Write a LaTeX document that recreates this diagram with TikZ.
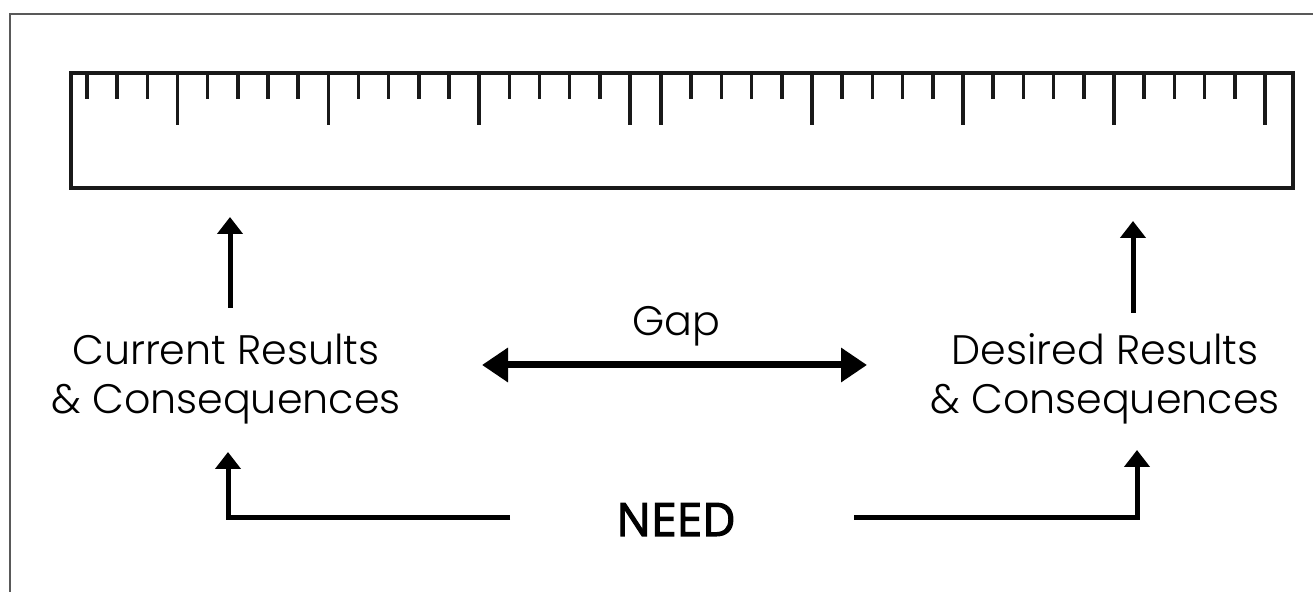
\documentclass[tikz,border=0pt]{standalone}
\usepackage{fontspec}
\setmainfont{Poppins}[UprightFont=* Light]
\newfontfamily\needfont{Open Sans}[FakeBold=2.5]
\usetikzlibrary{arrows.meta}
\begin{document}
\begin{tikzpicture}[x=0.5pt,y=-0.5pt,
  frame/.style={draw=black!65,line width=1pt},
  rulerline/.style={draw=black!90,line width=1.7pt},
  tick/.style={draw=black!90,line width=1.8pt},
  lbl/.style={inner sep=0pt,align=center,font=\fontsize{20.6pt}{24.5pt}\selectfont},
  needlbl/.style={inner sep=0pt,font=\needfont\fontsize{23pt}{28pt}\selectfont},
  uparr/.style={line width=2.5pt,-{Triangle[length=8.5pt,width=12.5pt]}},
  gaparr/.style={line width=3.5pt,{Triangle[length=13pt,width=16.5pt]}-{Triangle[length=13pt,width=16.5pt]}},
  needarr/.style={line width=2.5pt,-{Triangle[length=8.5pt,width=12.5pt]}}]
\useasboundingbox (0,0) rectangle (1313,592);
% outer frame (only top and left edges visible)
\draw[frame] (10,600) -- (10,14) -- (1320,14);
% ruler
\draw[rulerline] (71,73) rectangle (1293,188);
\foreach \i in {0,...,18}{
  \pgfmathsetmacro\xx{87+\i*30.167}
  \pgfmathsetmacro\ll{mod(\i,5)==3 ? 125 : 99}
  \draw[tick] (\xx,73) -- (\xx,\ll);
}
\foreach \i in {0,...,20}{
  \pgfmathsetmacro\xx{661+\i*30.2}
  \pgfmathsetmacro\ll{mod(\i,5)==0 ? 125 : 99}
  \draw[tick] (\xx,73) -- (\xx,\ll);
}
% labels
\node[lbl] (cur) at (226,379) {Current Results\\\& Consequences};
\node[lbl] (des) at (1105,379) {Desired Results\\\& Consequences};
\node[lbl,anchor=base] (gap) at (676,336) {Gap};
\node[needlbl,anchor=base] (need) at (676,536) {NEED};
% arrow end coordinates
\coordinate (curTail) at (230,308);
\coordinate (curTip) at (230,217);
\coordinate (desTail) at (1133,313);
\coordinate (desTip) at (1133,221);
\coordinate (gapL) at (482,365);
\coordinate (gapR) at (867,365);
\coordinate (needLstart) at (510,518);
\coordinate (needRstart) at (854,518);
\coordinate (curIn) at (228,452);
\coordinate (desIn) at (1137,450);
% connectors
\draw[uparr] (curTail) -- (curTip);
\draw[uparr] (desTail) -- (desTip);
\draw[gaparr] (gapL) -- (gapR);
\draw[needarr] (needLstart) -| (curIn);
\draw[needarr] (needRstart) -| (desIn);
\end{tikzpicture}
\end{document}
